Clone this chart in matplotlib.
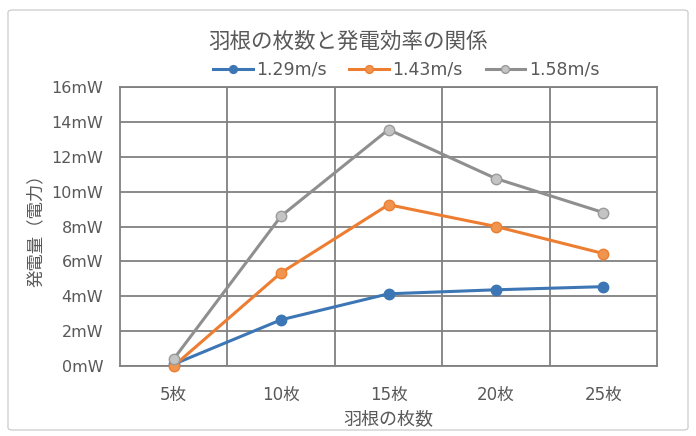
import matplotlib
matplotlib.use("Agg")
import matplotlib.pyplot as plt
from matplotlib.patches import FancyBboxPatch

FONTS = ['DejaVu Sans', 'Noto Sans CJK JP']
JP = ['Noto Sans CJK JP', 'DejaVu Sans']
plt.rcParams['font.family'] = FONTS

categories = ["5枚", "10枚", "15枚", "20枚", "25枚"]
series_names = ["1.29m/s", "1.43m/s", "1.58m/s"]
v129 = [0.1, 2.65, 4.14, 4.37, 4.55]
v143 = [0.0, 5.35, 9.25, 8.0, 6.45]
v158 = [0.4, 8.6, 13.56, 10.75, 8.8]
yticks = [0, 2, 4, 6, 8, 10, 12, 14, 16]
ytick_labels = [f"{v}mW" for v in yticks]

text_color = "#595959"
grid_color = "#808080"

fig = plt.figure(figsize=(6.96, 4.36), dpi=100)
fig.patch.set_facecolor("white")
border = FancyBboxPatch((8/696, 6/436), 680/696, 420/436,
                        boxstyle="round,pad=0,rounding_size=0.006",
                        transform=fig.transFigure, facecolor="none",
                        edgecolor="#d0d0d0", linewidth=1.0, zorder=-10)
fig.patches.append(border)

ax = fig.add_axes([120/696, 1 - 366/436, 537/696, 279/436])
x = list(range(len(categories)))

styles = [
    (v129, "#3d76b4", "#3d76b4", "#3d76b4"),
    (v143, "#ed7d31", "#f0954f", "#ed7d31"),
    (v158, "#8f8f8f", "#c4c4c4", "#9a9a9a"),
]
for (vals, lc, mfc, mec), name in zip(styles, series_names):
    ax.plot(x, vals, color=lc, linewidth=2.2, marker="o", markersize=7.5,
            markerfacecolor=mfc, markeredgecolor=mec, markeredgewidth=1.0,
            label=name, zorder=3, clip_on=False)

ax.set_xlim(-0.5, len(categories) - 0.5)
ax.set_ylim(0, 16)
ax.set_yticks(yticks)
ax.set_yticklabels(ytick_labels, fontsize=11.5)
ax.set_xticks(x)
ax.set_xticklabels(categories, fontsize=12)
ax.set_xticks([i + 0.5 for i in range(len(categories) - 1)], minor=True)
ax.grid(True, which="major", axis="y", color=grid_color, linewidth=1.3)
ax.grid(True, which="minor", axis="x", color=grid_color, linewidth=1.3)
ax.set_axisbelow(True)
for s in ax.spines.values():
    s.set_color(grid_color)
    s.set_linewidth(1.3)
ax.tick_params(which="both", length=0, colors=text_color)
ax.tick_params(axis="x", pad=14.5)
ax.tick_params(axis="y", pad=12)

ax.set_xlabel("羽根の枚数", fontsize=13, color=text_color, labelpad=4, family=JP)
ax.set_ylabel("発電量（電力）", fontsize=12.5, color=text_color, labelpad=5, family=JP)

fig.text(0.5, 1 - 42/436, "羽根の枚数と発電効率の関係", ha="center", va="center",
         fontsize=15.5, color=text_color, family=JP)
leg = fig.legend(loc="center", bbox_to_anchor=(406/696, 1 - 70/436), ncol=3,
                 frameon=False, fontsize=12.5, handlelength=2.3,
                 columnspacing=1.3, handletextpad=0.2, markerscale=0.75)
for t in leg.get_texts():
    t.set_color(text_color)

fig.savefig("out.png", dpi=100, facecolor="white")
